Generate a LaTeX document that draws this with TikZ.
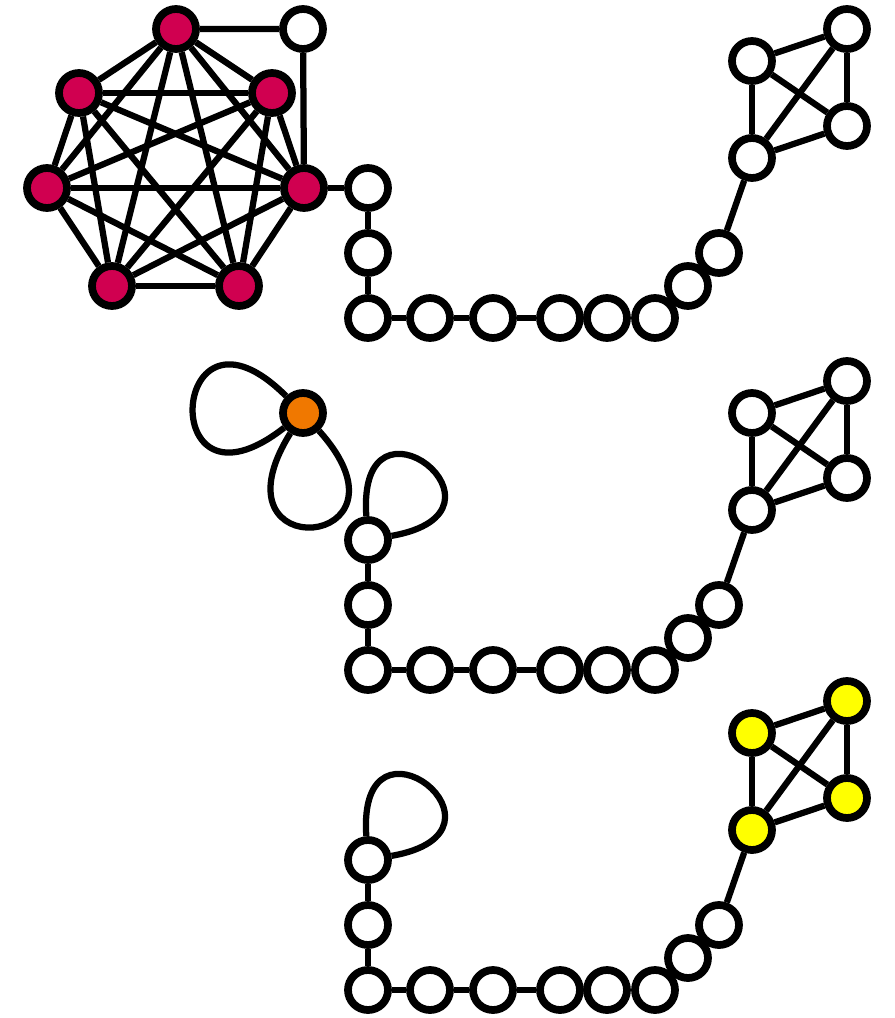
\documentclass[tikz,border=0pt]{standalone}
\usepackage{tikz}
\usetikzlibrary{positioning}
\definecolor{cliq}{RGB}{208,0,80}
\definecolor{selfl}{RGB}{240,120,0}
\definecolor{hub}{RGB}{255,255,0}

\begin{document}
\begin{tikzpicture}[x=0.02cm,y=0.02cm,
  vtx/.style={circle,draw,line width=0.155cm,minimum size=0.8cm,inner sep=0pt,fill=white},
  lnk/.style={line width=0.125cm}]
  \useasboundingbox (0,0) rectangle (894,-1018);
  % clique K7
  \foreach \i/\x/\y in {1/176/29,2/272/93,3/304/188,4/239/286,5/112/286,6/47/188,7/79/93}
    \node[vtx,fill=cliq] (r\i) at (\x,-\y) {};
  \foreach \i in {1,...,7} \foreach \j in {1,...,7} {\ifnum\i<\j \draw[lnk] (r\i) -- (r\j);\fi}
  \node[vtx] (w) at (303,-29) {};
  \draw[lnk] (r1) -- (w) -- (r3);
  % orange vertex with two loops
  \node[vtx,fill=selfl] (o) at (303,-413) {};
  \draw[lnk] (o) to[out=135,in=218,distance=3.3cm] (o);
  \draw[lnk] (o) to[out=238,in=312,distance=3.2cm] (o);
  % three copies of path + K4
  \foreach \s/\dy/\col in {t/0/white,m/352/white,b/672/hub} {
    \foreach \n/\x/\y in {1/368/188,2/368/253,3/368/318,4/430/318,5/493/318,6/560/318,7/607/318,8/655/318,9/688/286,10/719/253}
      \node[vtx] (\s\n) at (\x,-\y-\dy) {};
    \foreach \n/\x/\y in {1/752/158,2/752/61,3/847/29,4/847/126}
      \node[vtx,fill=\col] (\s k\n) at (\x,-\y-\dy) {};
    \foreach \a/\b in {1/2,2/3,3/4,4/5,5/6} \draw[lnk] (\s\a) -- (\s\b);
    \draw[lnk] (\s10) -- (\s k1);
    \foreach \a/\b in {1/2,1/3,1/4,2/3,2/4,3/4} \draw[lnk] (\s k\a) -- (\s k\b);
  }
  \draw[lnk] (r3) -- (t1);
  % loops on the path ends
  \draw[lnk] (m1) to[out=94,in=10,distance=2.8cm] (m1);
  \draw[lnk] (b1) to[out=94,in=10,distance=2.8cm] (b1);
\end{tikzpicture}
\end{document}
